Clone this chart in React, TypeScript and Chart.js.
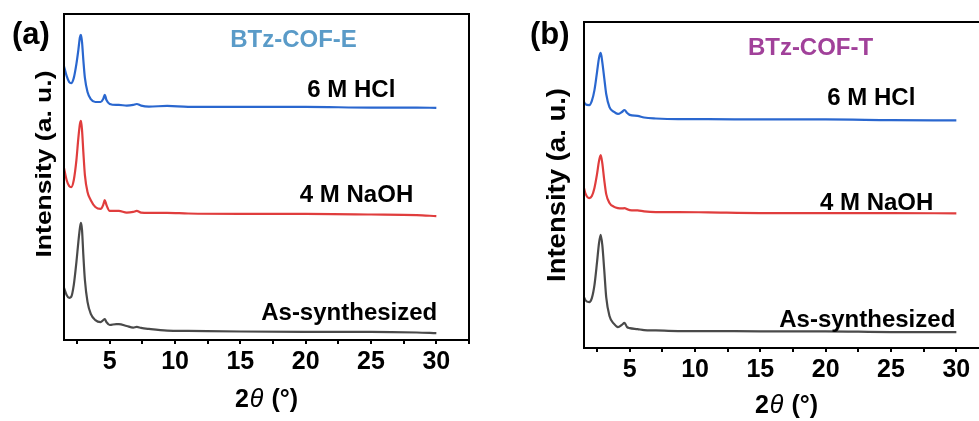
import React, { useEffect, useRef } from "react";
import { Chart, registerables } from "chart.js";

Chart.register(...registerables);

const FONT = "'Liberation Sans', Arial, sans-serif";

// ---------- Data (2θ in degrees, intensity in arbitrary units incl. stacking offset) ----------
const X_A = [1.5, 1.7, 1.9, 2.05, 2.25, 2.45, 2.6, 2.72, 2.8, 2.88, 2.98, 3.1, 3.3, 3.55, 3.9, 4.3, 4.5, 4.62, 4.75, 5.0, 5.5, 5.7, 6.3, 6.8, 7.07, 7.4, 8.0, 9.4, 11, 15, 20, 25, 28.5, 30];
const HCL_A = [84.0, 81.0, 79.1, 78.8, 80.4, 84.7, 89.0, 92.9, 93.6, 91.4, 85.9, 80.4, 76.1, 73.9, 73.0, 73.0, 73.9, 75.2, 73.6, 72.4, 72.1, 72.1, 71.9, 72.1, 72.4, 71.9, 71.6, 71.8, 71.5, 71.5, 71.5, 71.3, 71.3, 71.2];
const NAOH_A = [52.8, 49.1, 47.2, 46.9, 49.1, 55.2, 62.0, 66.3, 67.2, 64.4, 57.7, 50.6, 45.4, 42.9, 40.8, 40.2, 41.4, 42.9, 41.4, 39.6, 39.6, 39.6, 39.1, 39.3, 39.6, 39.1, 39.0, 39.0, 38.8, 38.7, 38.7, 38.5, 38.3, 38.0];
const AS_A = [16.0, 13.8, 12.9, 13.2, 16.9, 23.9, 30.1, 34.4, 35.9, 33.7, 26.1, 18.4, 11.7, 8.0, 6.1, 5.5, 6.1, 6.4, 5.5, 4.6, 4.9, 4.9, 4.3, 3.8, 4.0, 3.7, 3.4, 2.9, 2.8, 2.6, 2.5, 2.5, 2.3, 2.1];

const X_B = [1.5, 1.6, 1.9, 2.1, 2.3, 2.5, 2.65, 2.78, 2.9, 3.05, 3.2, 3.45, 3.8, 4.1, 4.4, 4.6, 4.8, 5.0, 5.6, 6.1, 7, 8.7, 11, 15, 20, 25, 30];
const HCL_B = [75.5, 74.8, 74.5, 75.8, 79.1, 84.7, 89.0, 90.5, 87.7, 82.8, 77.9, 73.9, 72.4, 71.8, 72.4, 73.0, 72.1, 71.5, 71.2, 70.7, 70.4, 70.2, 70.2, 70.1, 70.1, 69.9, 69.8];
const NAOH_B = [49.1, 47.5, 46.0, 46.6, 49.1, 53.4, 57.4, 59.2, 56.7, 51.5, 47.2, 44.5, 43.3, 42.9, 42.8, 42.9, 42.6, 42.3, 42.2, 41.9, 41.7, 41.7, 41.6, 41.4, 41.4, 41.4, 41.3];
const AS_B = [15.6, 14.7, 14.1, 15.3, 19.3, 26.4, 32.2, 34.7, 31.6, 23.9, 15.6, 9.8, 7.4, 6.4, 7.1, 7.7, 6.4, 6.1, 5.8, 5.5, 5.4, 5.2, 5.2, 5.1, 5.1, 4.9, 4.9];

const SERIES_NAMES = ["6 M HCl", "4 M NaOH", "As-synthesized"];
const SERIES_COLORS = ["#2a67cf", "#e03d3d", "#4a4a4a"];

// label anchors in data space: [x, y]
const LABEL_POS_A = [[26.86, 74.5], [28.23, 42.3], [30.07, 6.1]];
const LABEL_POS_B = [[26.86, 74.5], [28.24, 42.3], [29.92, 6.4]];

const X_MIN = 1.5;
const X_MAX = 32.5;
const X_STEP = 2.5;
const X_LABEL_EVERY = 5;

const Y_TITLE = "Intensity (a. u.)";

type PanelCfg = {
  left: number;
  width: number;
  padLeft: number;
  padRight: number;
  padTop: number;
  axisHeight: number;
  xs: number[];
  series: number[][];
  labelPos: number[][];
  title: string;
  titleColor: string;
  titlePos: number[];
  tag: string;
  tagDx: number;
  tagDy: number;
  tagSize: number;
  yTitleX: number;
  yTitleY: number;
  yTitleSize: number;
  yTitleLen: number;
  xTitleDy: number;
};

function overlayPlugin(cfg: PanelCfg) {
  return {
    id: "overlay",
    afterDraw(chart: any) {
      const { ctx, chartArea: ca, scales } = chart;
      const xs = scales.x;
      const ys = scales.y;
      ctx.save();
      // frame
      ctx.strokeStyle = "#000";
      ctx.lineWidth = 2;
      ctx.beginPath();
      ctx.rect(ca.left, ca.top, ca.right - ca.left, ca.bottom - ca.top);
      ctx.stroke();

      // series labels
      ctx.fillStyle = "#000";
      ctx.font = `bold 24px ${FONT}`;
      ctx.textAlign = "right";
      ctx.textBaseline = "alphabetic";
      SERIES_NAMES.forEach((name, i) => {
        const [lx, ly] = cfg.labelPos[i];
        ctx.fillText(name, xs.getPixelForValue(lx), ys.getPixelForValue(ly));
      });

      // sample title
      ctx.fillStyle = cfg.titleColor;
      ctx.textAlign = "center";
      ctx.font = `bold 24px ${FONT}`;
      ctx.fillText(cfg.title, xs.getPixelForValue(cfg.titlePos[0]), ys.getPixelForValue(cfg.titlePos[1]));

      // panel tag
      ctx.fillStyle = "#000";
      ctx.textAlign = "left";
      ctx.font = `bold ${cfg.tagSize}px ${FONT}`;
      ctx.fillText(cfg.tag, ca.left + cfg.tagDx, ca.top + cfg.tagDy);

      // y title (rotated, stretched along its length)
      ctx.save();
      ctx.font = `bold ${cfg.yTitleSize}px ${FONT}`;
      const natural = ctx.measureText(Y_TITLE).width;
      ctx.translate(ca.left + cfg.yTitleX, cfg.yTitleY);
      ctx.rotate(-Math.PI / 2);
      ctx.scale(cfg.yTitleLen / natural, 1);
      ctx.textAlign = "center";
      ctx.fillText(Y_TITLE, 0, 0);
      ctx.restore();

      // x title: 2θ (°)
      const parts = [
        { t: "2", f: `bold 25px ${FONT}`, gap: 1 },
        { t: "θ", f: `italic 25px ${FONT}`, gap: 8 },
        { t: "(°)", f: `bold 25px ${FONT}`, gap: 0 },
      ];
      let total = 0;
      const widths = parts.map((p) => {
        ctx.font = p.f;
        const w = ctx.measureText(p.t).width;
        total += w + p.gap;
        return w;
      });
      total -= parts[parts.length - 1].gap;
      let cx = (ca.left + ca.right) / 2 - total / 2;
      const by = ca.bottom + cfg.xTitleDy;
      ctx.textAlign = "left";
      parts.forEach((p, i) => {
        ctx.font = p.f;
        ctx.fillText(p.t, cx, by);
        cx += widths[i] + p.gap;
      });
      ctx.restore();
    },
  };
}

function Panel({ cfg }: { cfg: PanelCfg }) {
  const ref = useRef<HTMLCanvasElement>(null);
  useEffect(() => {
    const canvas = ref.current!;
    const chart = new Chart(canvas, {
      type: "line",
      data: {
        datasets: cfg.series.map((vals, i) => ({
          label: SERIES_NAMES[i],
          data: cfg.xs.map((x, j) => ({ x, y: vals[j] })),
          borderColor: SERIES_COLORS[i],
          backgroundColor: SERIES_COLORS[i],
          borderWidth: 2.2,
          pointRadius: 0,
          fill: false,
          cubicInterpolationMode: "monotone" as const,
        })),
      },
      options: {
        animation: false,
        responsive: false,
        devicePixelRatio: 1,
        events: [],
        layout: {
          padding: { left: cfg.padLeft, right: cfg.padRight, top: cfg.padTop, bottom: 0 },
        },
        plugins: { legend: { display: false }, tooltip: { enabled: false } },
        scales: {
          x: {
            type: "linear",
            min: X_MIN,
            max: X_MAX,
            border: { display: false },
            grid: {
              display: true,
              drawOnChartArea: false,
              drawTicks: true,
              tickLength: 4,
              color: "#000",
              lineWidth: 2,
            },
            ticks: {
              stepSize: X_STEP,
              includeBounds: false,
              maxTicksLimit: 30,
              autoSkip: false,
              maxRotation: 0,
              minRotation: 0,
              padding: 3,
              color: "#000",
              font: { family: FONT, size: 25, weight: "bold" },
              callback: (v: any) => {
                const n = Number(v);
                return Math.abs(n / X_LABEL_EVERY - Math.round(n / X_LABEL_EVERY)) < 1e-6 ? String(n) : "";
              },
            },
            afterFit: (s: any) => {
              s.height = cfg.axisHeight;
            },
          },
          y: {
            type: "linear",
            min: 0,
            max: 100,
            display: false,
          },
        },
      } as any,
      plugins: [overlayPlugin(cfg)],
    });
    return () => chart.destroy();
  }, []);
  return (
    <canvas
      ref={ref}
      width={cfg.width}
      height={421}
      style={{ position: "absolute", left: cfg.left, top: 0, width: cfg.width, height: 421 }}
    />
  );
}

const PANEL_A: PanelCfg = {
  left: 0,
  width: 490,
  padLeft: 64,
  padRight: 21,
  padTop: 14,
  axisHeight: 81,
  xs: X_A,
  series: [HCL_A, NAOH_A, AS_A],
  labelPos: LABEL_POS_A,
  title: "BTz-COF-E",
  titleColor: "#5a9bc8",
  titlePos: [19.07, 89.9],
  tag: "(a)",
  tagDx: -52,
  tagDy: 30,
  tagSize: 31,
  yTitleX: -13,
  yTitleY: 164,
  yTitleSize: 22,
  yTitleLen: 187,
  xTitleDy: 67,
};

const PANEL_B: PanelCfg = {
  left: 500,
  width: 510,
  padLeft: 84,
  padRight: 21,
  padTop: 22,
  axisHeight: 73,
  xs: X_B,
  series: [HCL_B, NAOH_B, AS_B],
  labelPos: LABEL_POS_B,
  title: "BTz-COF-T",
  titleColor: "#a1419a",
  titlePos: [18.84, 89.9],
  tag: "(b)",
  tagDx: -54,
  tagDy: 22,
  tagSize: 31,
  yTitleX: -19,
  yTitleY: 185,
  yTitleSize: 25,
  yTitleLen: 194,
  xTitleDy: 65,
};

export default function App() {
  return (
    <div
      style={{
        position: "fixed",
        left: 0,
        top: 0,
        width: 979,
        height: 421,
        overflow: "hidden",
        background: "#fff",
      }}
    >
      <Panel cfg={PANEL_A} />
      <Panel cfg={PANEL_B} />
    </div>
  );
}
